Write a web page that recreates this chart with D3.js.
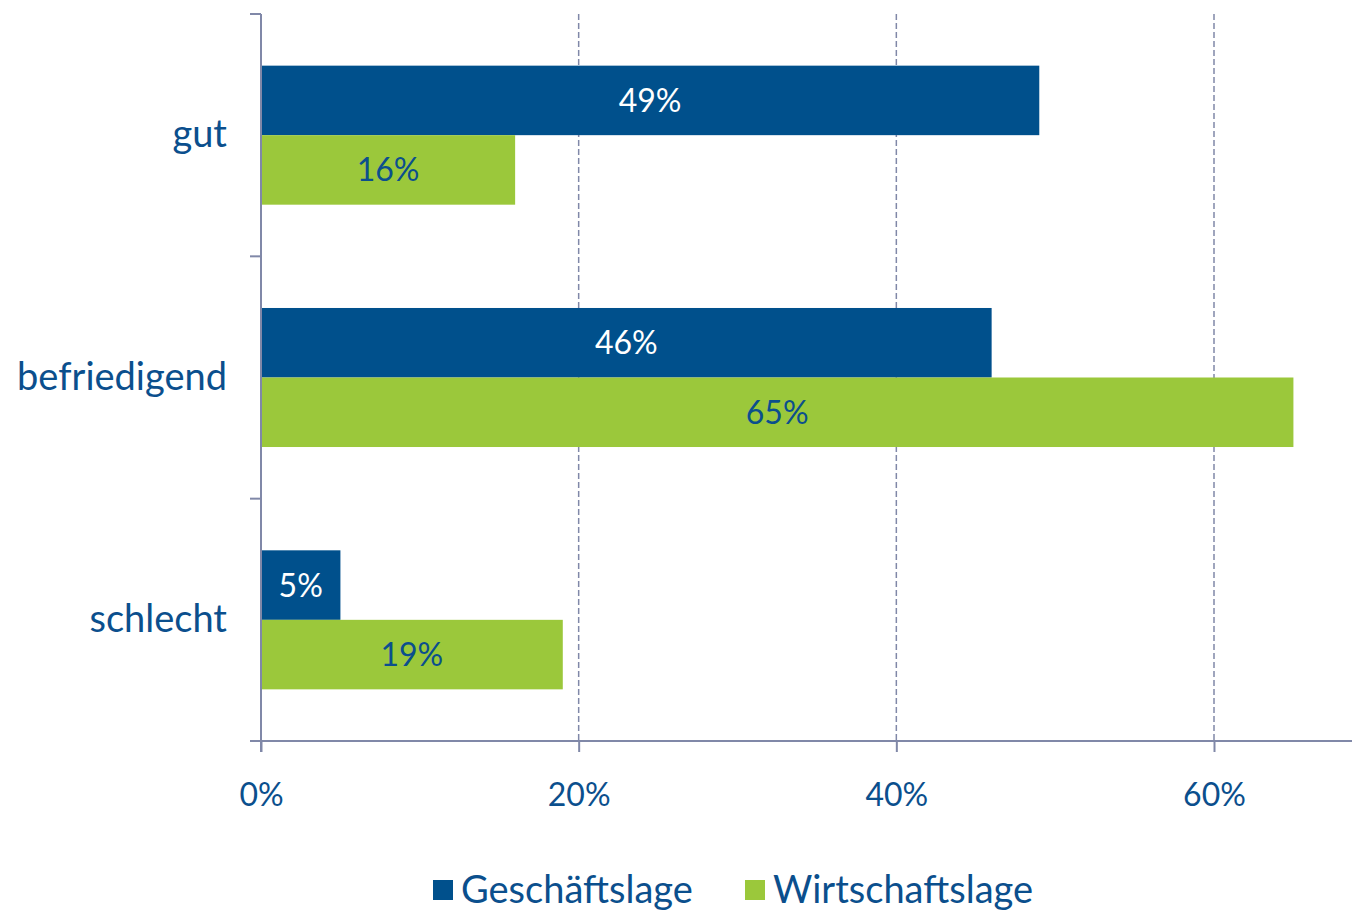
<!DOCTYPE html>
<html><head><meta charset="utf-8">
<script src="https://cdn.jsdelivr.net/npm/d3@7"></script>
<style>body{margin:0;background:#fff}svg{display:block}text{font-family:Lato,"Open Sans",sans-serif}</style>
</head><body><svg id="c" width="1352" height="910"></svg>
<script>
const categories = ["gut", "befriedigend", "schlecht"];
const seriesNames = ["Geschäftslage", "Wirtschaftslage"];
const geschaeftslage = [49, 46, 5];
const wirtschaftslage = [16, 65, 19];
const tickValues = [0, 20, 40, 60];
const tickLabels = ["0%", "20%", "40%", "60%"];

const colors = ["#00508C", "#9BC83B"];
const labelColors = ["#ffffff", "#0B4F8D"];
const textColor = "#0B4F8D";
const axisColor = "#8088A8";

const svg = d3.select("#c");
const mLeft = 261, mTop = 14, mBottom = 741, mRight = 1352;
const x = d3.scaleLinear().domain([0, 60]).range([mLeft, 1214]);
const y = d3.scaleBand().domain(categories).range([mTop, mBottom]).padding(0);
const sub = d3.scaleBand().domain(seriesNames).range([0, y.bandwidth()]).paddingInner(0).paddingOuter(0.743);

const data = categories.map((c, i) => ({cat: c, vals: [geschaeftslage[i], wirtschaftslage[i]]}));

// gridlines
svg.append("g").selectAll("line").data(tickValues.slice(1)).join("line")
  .attr("x1", d => x(d)).attr("x2", d => x(d)).attr("y1", mTop).attr("y2", mBottom)
  .attr("stroke", axisColor).attr("stroke-width", 1.5).attr("stroke-dasharray", "6,3");

// bars
const g = svg.append("g").selectAll("g").data(data).join("g")
  .attr("transform", d => `translate(0,${y(d.cat)})`);
g.selectAll("rect").data(d => d.vals.map((v, k) => ({v, k}))).join("rect")
  .attr("x", x(0)).attr("y", d => sub(seriesNames[d.k]))
  .attr("width", d => x(d.v) - x(0)).attr("height", sub.bandwidth())
  .attr("fill", d => colors[d.k]);
g.selectAll("text").data(d => d.vals.map((v, k) => ({v, k}))).join("text")
  .attr("x", d => (x(d.v) + x(0)) / 2).attr("y", d => sub(seriesNames[d.k]) + sub.bandwidth() / 2)
  .attr("dy", "0.36em").attr("text-anchor", "middle")
  .attr("font-size", 32).attr("fill", d => labelColors[d.k])
  .text(d => d.v + "%");

// y axis
const ya = svg.append("g").attr("transform", `translate(${mLeft},0)`)
  .call(d3.axisLeft(y).tickSize(0).tickPadding(34));
ya.select(".domain").remove();
ya.selectAll("text").attr("font-size", 38).attr("fill", textColor).attr("font-family", "Lato, sans-serif");
svg.append("line").attr("x1", mLeft).attr("x2", mLeft).attr("y1", mTop).attr("y2", mBottom + 11)
  .attr("stroke", axisColor).attr("stroke-width", 2);
const yTicks = [mTop, ...categories.map(c => y(c) + y.step())];
svg.append("g").selectAll("line").data(yTicks).join("line")
  .attr("x1", mLeft - 11).attr("x2", mLeft).attr("y1", d => d).attr("y2", d => d)
  .attr("stroke", axisColor).attr("stroke-width", 2);

// x axis
svg.append("line").attr("x1", mLeft - 11).attr("x2", mRight).attr("y1", mBottom).attr("y2", mBottom)
  .attr("stroke", axisColor).attr("stroke-width", 2);
const xa = svg.append("g").attr("transform", `translate(0,${mBottom})`)
  .call(d3.axisBottom(x).tickValues(tickValues).tickFormat((d, i) => tickLabels[i]).tickSize(11).tickPadding(31));
xa.select(".domain").remove();
xa.selectAll("line").attr("stroke", axisColor).attr("stroke-width", 2);
xa.selectAll("text").attr("font-size", 32).attr("fill", textColor).attr("font-family", "Lato, sans-serif");

// legend
const legX = [433, 745];
const lg = svg.append("g").selectAll("g").data(seriesNames).join("g")
  .attr("transform", (d, i) => `translate(${legX[i]},880)`);
lg.append("rect").attr("width", 20).attr("height", 20).attr("fill", (d, i) => colors[i]);
lg.append("text").attr("x", 28).attr("y", 10).attr("dy", "0.35em")
  .attr("font-size", 38).attr("fill", textColor).text(d => d);
</script></body></html>
